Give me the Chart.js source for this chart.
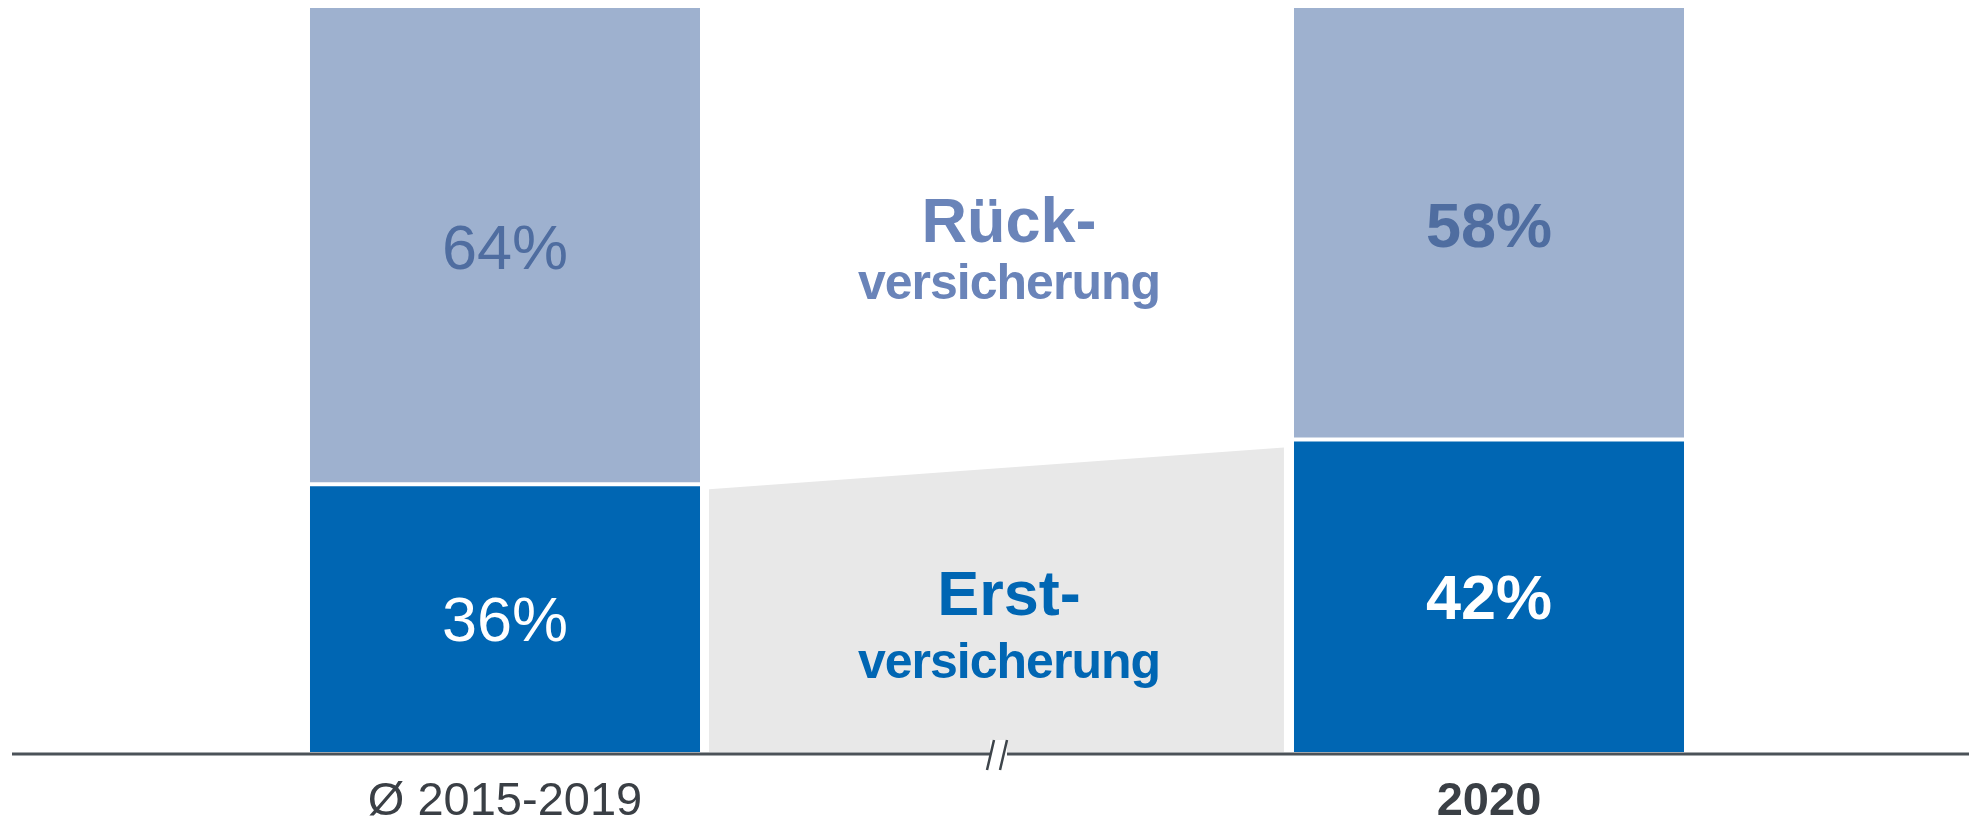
<!DOCTYPE html>
<html>
<head>
<meta charset="utf-8">
<script src="https://cdn.jsdelivr.net/npm/chart.js@4/dist/chart.umd.min.js"></script>
<style>
  html, body { margin: 0; padding: 0; background: #fff; }
  #wrap { width: 1969px; height: 822px; }
</style>
</head>
<body>
<div id="wrap"><canvas id="graficoAnteile"></canvas></div>
<script>
// Anteile Erst- / Rückversicherung, Ø 2015-2019 gegenüber 2020
const categories = ['Ø 2015-2019', '', '2020'];
const erstValues = [36, null, 42];
const rueckValues = [64, null, 58];
const rueckLines = ['Rück-', 'versicherung'];
const erstLines = ['Erst-', 'versicherung'];

const FONT = "'Liberation Sans', Arial, sans-serif";
const dunkelblau = '#0066B3';
const hellblau = '#9EB1CF';

// grauer Verbinder hinter den Balken (Erstversicherung)
const verbinder = {
  id: 'verbinder',
  beforeDatasetsDraw(chart) {
    const ctx = chart.ctx;
    const erst = chart.getDatasetMeta(0).data;
    const links = erst[0], rechts = erst[2];
    const bottom = chart.chartArea.bottom;
    const x1 = links.x + links.width / 2 + 9;
    const x2 = rechts.x - rechts.width / 2 - 10;
    ctx.save();
    ctx.fillStyle = '#E8E8E8';
    ctx.beginPath();
    ctx.moveTo(x1, links.y + 5);
    ctx.lineTo(x2, rechts.y + 8);
    ctx.lineTo(x2, bottom);
    ctx.lineTo(x1, bottom);
    ctx.closePath();
    ctx.fill();
    ctx.restore();
  },
  afterDatasetsDraw(chart) {
    const ctx = chart.ctx;
    const area = chart.chartArea;
    const mitte = chart.scales.x.getPixelForValue(1) + 12;
    ctx.save();
    ctx.textAlign = 'center';
    ctx.textBaseline = 'alphabetic';
    // Rückversicherung
    ctx.fillStyle = '#6A84B9';
    ctx.font = 'bold 63px ' + FONT;
    ctx.fillText(rueckLines[0], mitte, area.top + 234);
    ctx.font = 'bold 50px ' + FONT;
    ctx.letterSpacing = '-1px';
    ctx.fillText(rueckLines[1], mitte, area.top + 291);
    // Erstversicherung
    ctx.letterSpacing = '0px';
    ctx.fillStyle = dunkelblau;
    ctx.font = 'bold 63px ' + FONT;
    ctx.fillText(erstLines[0], mitte, area.top + 607);
    ctx.font = 'bold 50px ' + FONT;
    ctx.letterSpacing = '-1px';
    ctx.fillText(erstLines[1], mitte, area.top + 670);
    ctx.letterSpacing = '0px';

    // Prozentwerte in den Balken
    ctx.textBaseline = 'middle';
    chart.data.datasets.forEach((ds, di) => {
      chart.getDatasetMeta(di).data.forEach((bar, i) => {
        if (ds.data[i] == null) return;
        const fett = i === categories.length - 1;
        ctx.font = (fett ? 'bold ' : '') + '63px ' + FONT;
        ctx.fillStyle = di === 0 ? '#ffffff' : '#4F6DA0';
        ctx.fillText(ds.data[i] + '%', bar.x, (bar.y + bar.base) / 2 + 6);
      });
    });
    ctx.restore();
  },
  afterDraw(chart) {
    const ctx = chart.ctx;
    const y = chart.chartArea.bottom + 2;
    const mitte = chart.scales.x.getPixelForValue(1);
    ctx.save();
    // Achsenlinie über die ganze Breite
    ctx.strokeStyle = '#4B5258';
    ctx.lineWidth = 3;
    ctx.beginPath();
    ctx.moveTo(12, y);
    ctx.lineTo(chart.width, y);
    ctx.stroke();
    // Achsenbruch //
    ctx.fillStyle = '#ffffff';
    ctx.fillRect(mitte - 7, y - 14, 17, 16);
    ctx.strokeStyle = '#3E454B';
    ctx.lineWidth = 2.5;
    ctx.beginPath();
    ctx.moveTo(mitte - 3, y - 14);
    ctx.lineTo(mitte - 10, y + 16);
    ctx.moveTo(mitte + 10, y - 14);
    ctx.lineTo(mitte + 3, y + 16);
    ctx.stroke();
    ctx.restore();
  }
};

let anteile = document.getElementById('graficoAnteile').getContext('2d');
let graficoAnteile = new Chart(anteile, {
  type: 'bar',
  data: {
    labels: categories,
    datasets: [{
      label: 'Erstversicherung',
      data: erstValues,
      backgroundColor: dunkelblau,
      borderColor: '#ffffff',
      borderWidth: {top: 2, bottom: 0, left: 0, right: 0},
      borderSkipped: false
    },
    {
      label: 'Rückversicherung',
      data: rueckValues,
      backgroundColor: hellblau,
      borderColor: '#ffffff',
      borderWidth: {top: 0, bottom: 2, left: 0, right: 0},
      borderSkipped: false
    }]
  },
  options: {
    responsive: true,
    maintainAspectRatio: false,
    animation: false,
    layout: { padding: { left: 259, right: 234, top: 8, bottom: 0 } },
    datasets: { bar: { categoryPercentage: 1, barPercentage: 0.793 } },
    plugins: { legend: { display: false }, tooltip: { enabled: false } },
    scales: {
      x: {
        stacked: true,
        grid: { display: false, drawTicks: false },
        border: { display: false },
        afterFit(scale) { scale.height = 70; },
        ticks: {
          autoSkip: false,
          maxRotation: 0,
          padding: 28,
          color: '#3A3F45',
          font: (c) => ({
            family: FONT,
            size: 47,
            lineHeight: 0.95,
            weight: c.index === categories.length - 1 ? 'bold' : 'normal'
          })
        }
      },
      y: {
        stacked: true,
        display: false,
        min: 0,
        max: 100
      }
    }
  },
  plugins: [verbinder]
});
</script>
</body>
</html>
